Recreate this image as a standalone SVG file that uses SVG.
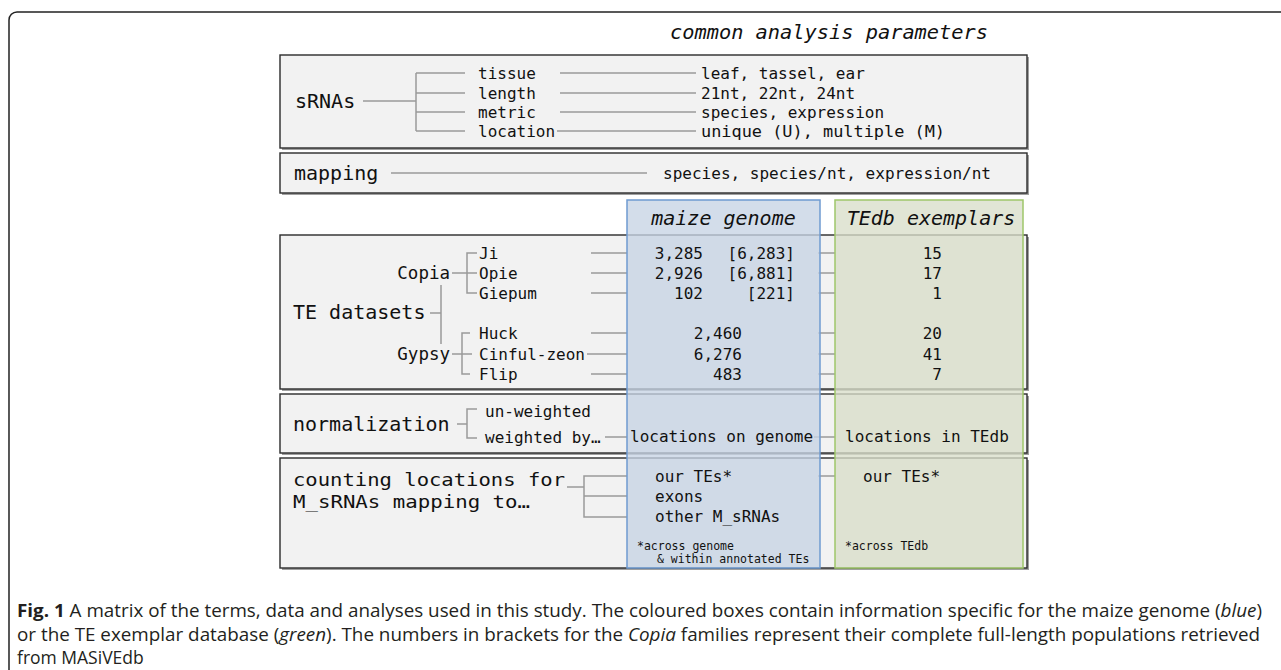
<svg xmlns="http://www.w3.org/2000/svg" width="1281" height="670" viewBox="0 0 1281 670">
<style>
.box{fill:#f2f2f2;stroke:#2b2b2b;stroke-width:1.4}
.sh{fill:#a0a0a0}
.c{stroke:#9a9a9a;stroke-width:1.5;fill:none}
.t{font-family:"DejaVu Sans Mono","Liberation Mono",monospace;fill:#111;dominant-baseline:central}
.s16{font-size:16px}
.s20{font-size:20px}
.s11{font-size:11.5px}
.it{font-style:italic}
.e{text-anchor:end}
.m{text-anchor:middle}
.cap{font-family:"Open Sans","Noto Sans",sans-serif;font-size:17.5px;fill:#231f20}
.blue{fill:rgb(198,212,228);fill-opacity:0.78;stroke:#6f9bd1;stroke-width:1.5}
.green{fill:rgb(216,222,201);fill-opacity:0.78;stroke:#9ec66a;stroke-width:1.5}
</style>
<rect x="9" y="12" width="1300" height="700" rx="8" fill="none" stroke="#222" stroke-width="1.5"/>
<text id="title" class="t s20 it" x="670" y="32" textLength="318" lengthAdjust="spacingAndGlyphs">common analysis parameters</text>

<g id="srnas">
<rect class="sh" x="282" y="57" width="747" height="93"/>
<rect class="box" x="280" y="55" width="747" height="93"/>
<text class="t s20" x="295" y="101">sRNAs</text>
<text class="t s16" x="478" y="73">tissue</text>
<text class="t s16" x="478" y="93">length</text>
<text class="t s16" x="478" y="112">metric</text>
<text class="t s16" x="478" y="131">location</text>
<text class="t s16" x="701" y="73">leaf, tassel, ear</text>
<text class="t s16" x="701" y="93">21nt, 22nt, 24nt</text>
<text class="t s16" x="701" y="112">species, expression</text>
<text class="t s16" x="701" y="131" textLength="244" lengthAdjust="spacingAndGlyphs">unique (U), multiple (M)</text>
</g>

<g id="mapping">
<rect class="sh" x="282" y="155" width="747" height="40"/>
<rect class="box" x="280" y="153" width="747" height="40"/>
<text class="t s20" x="294" y="173">mapping</text>
<text class="t s16" x="663" y="173" textLength="328" lengthAdjust="spacingAndGlyphs">species, species/nt, expression/nt</text>
</g>

<g id="te-datasets">
<rect class="sh" x="282" y="237" width="747" height="154"/>
<rect class="box" x="280" y="235" width="747" height="154"/>
<text class="t s20" x="293" y="312">TE datasets</text>
<text class="t e" style="font-size:17.5px" x="450" y="273">Copia</text>
<text class="t e" style="font-size:17.5px" x="450" y="354">Gypsy</text>
<text class="t s16" x="479" y="253">Ji</text>
<text class="t s16" x="479" y="273">Opie</text>
<text class="t s16" x="479" y="293">Giepum</text>
<text class="t s16" x="479" y="333">Huck</text>
<text class="t s16" x="479" y="354">Cinful-zeon</text>
<text class="t s16" x="479" y="374">Flip</text>
</g>

<g id="normalization">
<rect class="sh" x="282" y="396" width="747" height="59"/>
<rect class="box" x="280" y="394" width="747" height="59"/>
<text class="t s20" x="293" y="424">normalization</text>
<text class="t s16" x="485" y="411">un-weighted</text>
<text class="t s16" x="485" y="437">weighted by…</text>
</g>

<g id="counting">
<rect class="sh" x="282" y="460" width="747" height="110"/>
<rect class="box" x="280" y="458" width="747" height="110"/>
<text class="t" style="font-size:18px" x="293" y="479" textLength="272" lengthAdjust="spacingAndGlyphs">counting locations for</text>
<text class="t" style="font-size:18px" x="293" y="501" textLength="237" lengthAdjust="spacingAndGlyphs">M_sRNAs mapping to…</text>
</g>

<g id="connectors" class="c">
<path d="M363 101H416M416 73V131M416 73H465M416 93H465M416 112H465M416 131H465"/>
<path d="M560 73H696M560 93H696M560 112H696M557 131H696"/>
<path d="M391 173H647"/>
<path d="M430 313H441M441 285V344"/>
<path d="M452 273H477M477 253H467V293H477"/>
<path d="M452 354H472M470 333H462V374H470"/>
<path d="M591 253H627M591 273H627M591 293H627M591 333H627M587 354H627M591 374H627"/>
<path d="M818 253H835M818 273H835M818 293H835M818 333H835M818 354H835M818 374H835"/>
<path d="M457 424H467M477 409H467V438H477"/>
<path d="M605 437H627M814 437H835"/>
<path d="M567 487H584M627 476H584V517H627M584 496H627M818 476H835"/>
</g>

<g id="maize-genome">
<rect class="blue" x="627" y="200" width="193" height="368"/>
<text class="t s20 it m" x="723.5" y="218">maize genome</text>
<text class="t s16 e" x="703" y="253">3,285</text>
<text class="t s16 e" x="703" y="273">2,926</text>
<text class="t s16 e" x="703" y="293">102</text>
<text class="t s16 e" x="795" y="253">[6,283]</text>
<text class="t s16 e" x="795" y="273">[6,881]</text>
<text class="t s16 e" x="795" y="293">[221]</text>
<text class="t s16 e" x="742" y="333">2,460</text>
<text class="t s16 e" x="742" y="354">6,276</text>
<text class="t s16 e" x="742" y="374">483</text>
<text class="t s16" x="630" y="436">locations on genome</text>
<text class="t s16" x="655" y="476">our TEs*</text>
<text class="t s16" x="655" y="496">exons</text>
<text class="t s16" x="655" y="516">other M_sRNAs</text>
<text class="t s11" x="637" y="546">*across genome</text>
<text class="t s11" x="657" y="559">&amp; within annotated TEs</text>
</g>

<g id="tedb-exemplars">
<rect class="green" x="835" y="200" width="188" height="368"/>
<text class="t s20 it m" x="931" y="218">TEdb exemplars</text>
<text class="t s16 e" x="942" y="253">15</text>
<text class="t s16 e" x="942" y="273">17</text>
<text class="t s16 e" x="942" y="293">1</text>
<text class="t s16 e" x="942" y="333">20</text>
<text class="t s16 e" x="942" y="354">41</text>
<text class="t s16 e" x="942" y="374">7</text>
<text class="t s16" x="845" y="436">locations in TEdb</text>
<text class="t s16" x="863" y="476">our TEs*</text>
<text class="t s11" x="845" y="546">*across TEdb</text>
</g>

<g id="caption">
<text class="cap" x="17" y="617" textLength="1245" lengthAdjust="spacingAndGlyphs"><tspan font-weight="bold">Fig. 1</tspan> A matrix of the terms, data and analyses used in this study. The coloured boxes contain information specific for the maize genome (<tspan font-style="italic">blue</tspan>)</text>
<text class="cap" x="17" y="641" textLength="1243" lengthAdjust="spacingAndGlyphs">or the TE exemplar database (<tspan font-style="italic">green</tspan>). The numbers in brackets for the <tspan font-style="italic">Copia</tspan> families represent their complete full-length populations retrieved</text>
<text class="cap" x="17" y="664">from MASiVEdb</text>
</g>
</svg>
